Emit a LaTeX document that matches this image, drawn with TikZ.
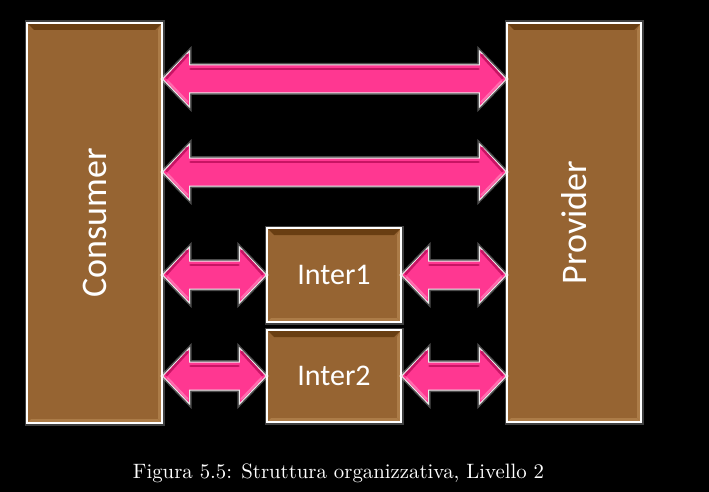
\documentclass[tikz,border=0pt]{standalone}
\usepackage{fontspec}
\newfontfamily\boxfont{Carlito}
\newfontfamily\capfont{lmroman10-regular}[Extension=.otf]
\usetikzlibrary{calc}
\definecolor{boxbrown}{RGB}{150,100,50}
\definecolor{boxdark}{RGB}{105,62,18}
\definecolor{boxlight}{RGB}{172,124,72}
\definecolor{arrpink}{RGB}{255,55,145}
\definecolor{arrdark}{RGB}{200,20,100}
\definecolor{arrlight}{RGB}{255,110,175}
\tikzset{
  bevelbox/.style={draw=white, line width=1.2pt, fill=boxbrown, inner sep=0pt,
    text=white, font=\boxfont,
    preaction={draw=white, opacity=0.25, line width=5pt},
    path picture={
      \fill[boxdark] (path picture bounding box.north west) -- (path picture bounding box.north east)
        -- ([xshift=-7pt,yshift=-7pt]path picture bounding box.north east)
        -- ([xshift=7pt,yshift=-7pt]path picture bounding box.north west) -- cycle;
      \fill[boxlight] (path picture bounding box.north east) -- (path picture bounding box.south east)
        -- ([xshift=-4pt,yshift=4pt]path picture bounding box.south east)
        -- ([xshift=-4pt,yshift=-7pt]path picture bounding box.north east) -- cycle;
      \fill[boxlight] (path picture bounding box.south west) -- (path picture bounding box.south east)
        -- ([xshift=-4pt,yshift=4pt]path picture bounding box.south east)
        -- ([xshift=4pt,yshift=4pt]path picture bounding box.south west) -- cycle;
    }},
  pinkarrow/.style={fill=arrpink, draw=white!85!gray, line width=1pt, line join=miter,
    preaction={draw=white, opacity=0.3, line width=4pt}},
  pinkedge/.style={draw=arrdark, line width=2.5pt, line cap=round},
  pinkshine/.style={draw=arrlight, line width=2pt, line cap=round}
}
\newcommand{\dblarrow}[2]{%
  \path[pinkarrow] (#1) -- ($(#1)+(27,-28)$) -- ($(#1)+(27,-14)$) -- ($(#2)+(-27,-14)$)
    -- ($(#2)+(-27,-28)$) -- (#2) -- ($(#2)+(-27,28)$) -- ($(#2)+(-27,14)$)
    -- ($(#1)+(27,14)$) -- ($(#1)+(27,28)$) -- cycle;
  \draw[pinkedge] ($(#1)+(4,-1)$) -- ($(#1)+(25,-24)$);
  \draw[pinkedge] ($(#1)+(28,-10)$) -- ($(#2)+(-28,-10)$);
  \draw[pinkedge] ($(#2)+(-25,-24)$) -- ($(#2)+(-4,-1)$);
  \draw[pinkshine] ($(#1)+(5,2)$) -- ($(#1)+(25,23)$);
  \draw[pinkshine] ($(#2)+(-25,23)$) -- ($(#2)+(-5,2)$);
}
\begin{document}
\begin{tikzpicture}[x=1pt,y=-1pt]
\useasboundingbox[fill=black] (0,0) rectangle (709,492);
\node[bevelbox, minimum width=135pt, minimum height=400pt] (C) at (94.5,223)
  {\rotatebox{90}{\fontsize{36}{40}\selectfont Consumer}};
\node[bevelbox, minimum width=134pt, minimum height=399pt] (P) at (574,222.5)
  {\rotatebox{90}{\fontsize{36}{40}\selectfont Provider}};
\node[bevelbox, minimum width=134pt, minimum height=94pt] (I1) at (334,275)
  {\fontsize{30}{34}\selectfont Inter1};
\node[bevelbox, minimum width=134pt, minimum height=92pt] (I2) at (334,376)
  {\fontsize{30}{34}\selectfont Inter2};
\coordinate (r1) at (0,79);
\coordinate (r2) at (0,172);
\coordinate (a1l) at (C.east |- r1);
\coordinate (a1r) at (P.west |- r1);
\coordinate (a2l) at (C.east |- r2);
\coordinate (a2r) at (P.west |- r2);
\coordinate (a3l) at (C.east |- I1.west);
\coordinate (a4l) at (C.east |- I2.west);
\coordinate (a5r) at (P.west |- I1.east);
\coordinate (a6r) at (P.west |- I2.east);
\dblarrow{a1l}{a1r}
\dblarrow{a2l}{a2r}
\dblarrow{a3l}{I1.west}
\dblarrow{a4l}{I2.west}
\dblarrow{I1.east}{a5r}
\dblarrow{I2.east}{a6r}
\node[text=white, font=\capfont\fontsize{20.8}{25}\selectfont, anchor=base] (cap) at (338.5,478)
  {Figura 5.5: Struttura organizzativa, Livello 2};
\end{tikzpicture}
\end{document}
